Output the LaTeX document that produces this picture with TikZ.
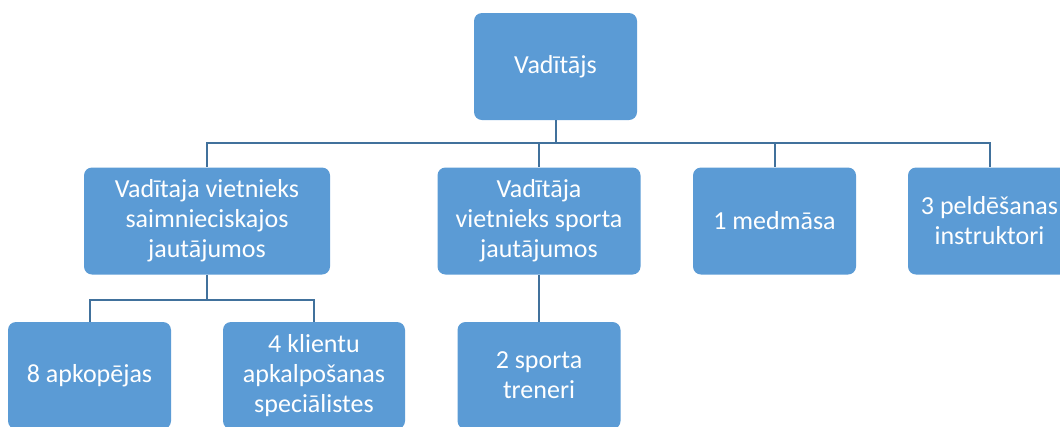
\documentclass[tikz,border=0pt]{standalone}
\usepackage{fontspec}
\setmainfont{Carlito}
\definecolor{boxblue}{HTML}{5B9BD5}
\definecolor{lineblue}{HTML}{41719C}

\begin{document}
\begin{tikzpicture}[x=0.75pt, y=-0.75pt,
	box/.style={fill=boxblue, rounded corners=6pt, text=white, align=center,
		minimum height=80.25pt, inner sep=0pt,
		font=\fontsize{19.5}{22.5}\selectfont},
	conn/.style={draw=lineblue, line width=1.5pt}]
\clip (0,0) rectangle (1060,426);
\node[box, minimum width=122.25pt] (boss) at (555.5,66.5) {Vadītājs};

\node[box, minimum width=184.5pt] (depA) at (207,221) {Vadītaja vietnieks\\saimnieciskajos\\jautājumos};
\node[box, minimum width=152.25pt] (depB) at (539,221) {Vadītāja\\vietnieks sporta\\jautājumos};
\node[box, minimum width=122.25pt] (nurse) at (774.5,221) {1 medmāsa};
\node[box, minimum width=122.25pt] (swim) at (989.5,221) {3 peldēšanas\\instruktori};

\node[box, minimum width=122.25pt] (clean) at (89.5,375.5) {8 apkopējas};
\node[box, minimum width=136.5pt] (client) at (314,375.5) {4 klientu\\apkalpošanas\\speciālistes};
\node[box, minimum width=122.25pt] (coach) at (539,375.5) {2 sporta\\treneri};

% top level
\foreach \n in {depA,depB,nurse,swim}
	\draw[conn] (boss.south) -- ++(0,23) -| (\n.north);
% second level
\foreach \n in {clean,client}
	\draw[conn] (depA.south) -- ++(0,25) -| (\n.north);
\draw[conn] (depB) -- (coach);
\end{tikzpicture}
\end{document}
